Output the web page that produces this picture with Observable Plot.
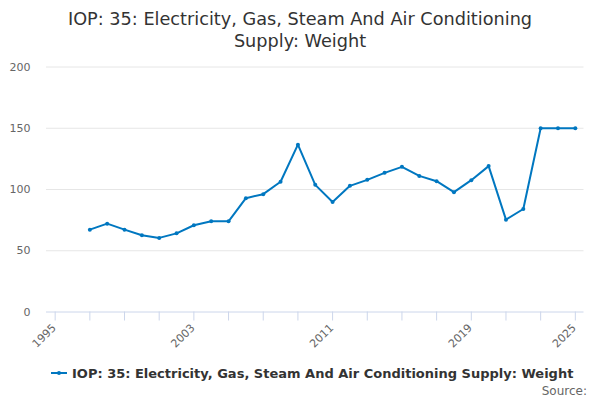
<!DOCTYPE html>
<html>
<head>
<meta charset="utf-8">
<script src="https://cdn.jsdelivr.net/npm/d3@7"></script>
<script src="https://cdn.jsdelivr.net/npm/@observablehq/plot@0.6"></script>
<style>
  body { margin: 0; background: #fff; }
  #wrap { position: relative; width: 600px; height: 400px; font-family: "DejaVu Sans", sans-serif; overflow: hidden; }
  #title { position: absolute; top: 8px; left: 0; width: 600px; text-align: center; font-size: 17.7px; line-height: 22px; color: #333; white-space: nowrap; }
  #legend { position: absolute; top: 365.5px; left: 51px; font-size: 13px; line-height: 16px; font-weight: bold; color: #333; white-space: nowrap; }
  #legend svg { vertical-align: baseline; }
  #source { position: absolute; top: 382.5px; right: 13px; font-size: 12px; line-height: 16px; color: #666; }
  #chart { position: absolute; top: 0; left: 0; }
</style>
</head>
<body>
<div id="wrap">
  <div id="chart"></div>
  <div id="title">IOP: 35: Electricity, Gas, Steam And Air Conditioning<br>Supply: Weight</div>
  <div id="legend"></div>
  <div id="source">Source:</div>
</div>
<script>
const seriesName = "IOP: 35: Electricity, Gas, Steam And Air Conditioning Supply: Weight";
const years = [1997, 1998, 1999, 2000, 2001, 2002, 2003, 2004, 2005, 2006, 2007, 2008, 2009, 2010, 2011, 2012, 2013, 2014, 2015, 2016, 2017, 2018, 2019, 2020, 2021, 2022, 2023, 2024, 2025];
const values = [67.2, 72.1, 67.2, 62.6, 60.5, 64.2, 70.8, 74.0, 74.0, 92.9, 96.2, 106.3, 136.6, 103.8, 89.8, 103.0, 107.9, 113.6, 118.5, 111.1, 106.8, 97.8, 107.6, 119.1, 75.4, 84.1, 150, 150, 150];
const yTicks = [0, 50, 100, 150, 200];
const gridValues = [50, 100, 150, 200];
const xTickYears = [1995, 1997, 1999, 2001, 2003, 2005, 2007, 2009, 2011, 2013, 2015, 2017, 2019, 2021, 2023, 2025];
const xLabelYears = [1995, 2003, 2011, 2019, 2025];

const color = "#0077c0";
const data = years.map((y, i) => ({year: y, value: values[i]}));

const chart = Plot.plot({
  width: 600,
  height: 400,
  marginTop: 66.5,
  marginBottom: 88.5,
  marginLeft: 46,
  marginRight: 16.5,
  style: {fontFamily: "DejaVu Sans, sans-serif", fontSize: "11px", background: "#fff"},
  x: {domain: [1994.5, 2025.5], axis: null},
  y: {domain: [0, 200], axis: null},
  marks: [
    Plot.ruleY(gridValues, {stroke: "#e6e6e6", strokeWidth: 1}),
    Plot.axisY(yTicks, {tickSize: 0, tickPadding: 16, color: "#666", fontSize: 11, label: null}),
    Plot.ruleY([0], {stroke: "#ccd6eb", strokeWidth: 1}),
    Plot.axisX(xTickYears, {tickSize: 9, stroke: "#ccd6eb", tickFormat: () => "", label: null}),
    Plot.text(xLabelYears, {x: d => d, frameAnchor: "bottom", rotate: -45, textAnchor: "end", lineAnchor: "middle", dx: -1, dy: 14, fontSize: 11, fill: "#666", text: d => String(d)}),
    Plot.line(data, {x: "year", y: "value", stroke: color, strokeWidth: 2}),
    Plot.dot(data, {x: "year", y: "value", r: 2, fill: color, stroke: "none"})
  ]
});
document.getElementById("chart").appendChild(chart);

document.getElementById("legend").innerHTML =
  '<svg width="16" height="10" style="margin-right:5px"><line x1="0" y1="5" x2="16" y2="5" stroke="' + color + '" stroke-width="2"/><circle cx="8" cy="5" r="2" fill="' + color + '"/></svg>' + seriesName;
</script>
</body>
</html>
